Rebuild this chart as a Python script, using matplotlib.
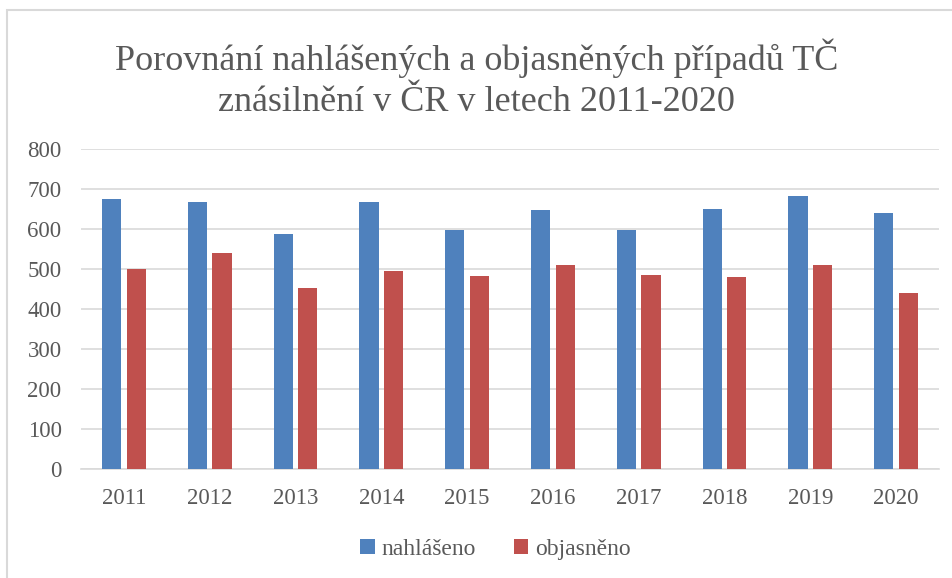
import numpy as np
import matplotlib.pyplot as plt
from matplotlib.patches import Rectangle

years = ['2011', '2012', '2013', '2014', '2015', '2016', '2017', '2018', '2019', '2020']
nahlaseno = [674, 667, 588, 667, 597, 648, 597, 650, 683, 641]
objasneno = [499, 539, 453, 495, 483, 511, 484, 479, 511, 439]

blue = '#4F81BD'
red = '#C0504D'
grey = '#595959'

plt.rcParams['font.family'] = ['Liberation Serif', 'DejaVu Serif']

fig = plt.figure(figsize=(9.53, 5.78), dpi=100)
ax = fig.add_axes([0.085, 0.1886, 0.9003, 0.5536])

x = np.arange(len(years))
w = 0.225
ax.bar(x - 0.143, nahlaseno, w, color=blue, label='nahlášeno', zorder=3)
ax.bar(x + 0.143, objasneno, w, color=red, label='objasněno', zorder=3)

ax.set_xlim(-0.5, len(years) - 0.5)
ax.set_ylim(0, 800)
ax.set_yticks(range(0, 801, 100))
ax.set_xticks(x)
ax.set_xticklabels(years)
ax.tick_params(length=0, labelsize=16.5, colors=grey)
ax.tick_params(axis='x', pad=14)
ax.tick_params(axis='y', pad=14)
ax.grid(axis='y', color='#D9D9D9', linewidth=1.2, zorder=0)
for s in ['top', 'right', 'left']:
    ax.spines[s].set_visible(False)
ax.spines['bottom'].set_color('#D9D9D9')
ax.spines['bottom'].set_linewidth(1.2)

fig.text(0.5, 0.864, 'Porovnání nahlášených a objasněných případů TČ\nznásilnění v ČR v letech 2011-2020',
         ha='center', va='center', fontsize=26, color=grey, linespacing=1.3)

fig.legend(loc='center', bbox_to_anchor=(0.52, 0.05), ncol=2, frameon=False,
           prop={'family': ['Liberation Serif'], 'size': 17},
           handlelength=0.6, handleheight=0.6, handletextpad=0.3,
           columnspacing=1.6, labelcolor=grey)

fig.add_artist(Rectangle((7 / 953, -0.05), 1.0, 1.05 - 10 / 578,
                         transform=fig.transFigure, fill=False,
                         edgecolor='#D9D9D9', linewidth=1.5))

fig.savefig('out.png', dpi=100)
